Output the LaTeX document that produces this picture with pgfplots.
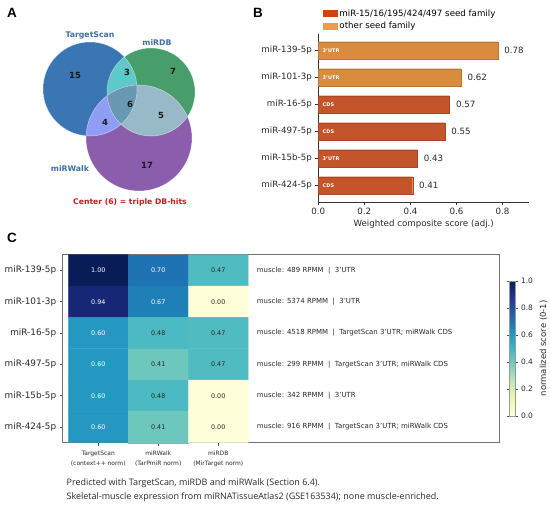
\documentclass[border=0pt]{standalone}
\usepackage{fontspec}
\setmainfont{DejaVu Sans}
\newfontfamily\capfont{Open Sans}
\newfontfamily\letterfont{Liberation Sans}
\usepackage{pgfplots}
\pgfplotsset{compat=1.18}
\newcommand{\fs}[1]{\fontsize{#1pt}{#1pt}\selectfont}
\newcommand{\sepbar}{\ \ |\ \ }
\newcommand{\annTS}{TargetScan 3'UTR; miRWalk CDS}
\definecolor{tsblue}{RGB}{58,118,180}
\definecolor{dbgreen}{RGB}{72,158,106}
\definecolor{wkpurple}{RGB}{138,94,172}
\definecolor{tsdb}{RGB}{95,200,200}
\definecolor{tswk}{RGB}{143,158,245}
\definecolor{dbwk}{RGB}{152,186,200}
\definecolor{ctr}{RGB}{104,152,178}
\definecolor{lblblue}{RGB}{62,110,165}
\definecolor{ctrred}{RGB}{192,30,30}
\definecolor{famC}{RGB}{196,84,42}
\definecolor{othC}{RGB}{218,140,62}
\definecolor{famL}{RGB}{204,68,18}
\definecolor{othL}{RGB}{242,152,82}
\definecolor{txt}{RGB}{40,40,40}
\begin{document}
\begin{tikzpicture}
\useasboundingbox (0bp,0bp) rectangle (550bp,506bp);
% ---------- background axis (pixel coordinates) : Venn, letters, caption
\begin{axis}[at={(0bp,0bp)}, anchor=south west, scale only axis, width=550bp, height=506bp,
  xmin=0, xmax=550, ymin=0, ymax=506, y dir=reverse, axis lines=none, clip=false]
\fill[tsblue] (axis cs:90,89) circle[radius=47bp];
\fill[dbgreen] (axis cs:151,92) circle[radius=44bp];
\fill[wkpurple] (axis cs:139,138) circle[radius=53bp];
\begin{scope}
\clip (axis cs:90,89) circle[radius=47bp];
\fill[tsdb] (axis cs:151,92) circle[radius=44bp];
\end{scope}
\begin{scope}
\clip (axis cs:90,89) circle[radius=47bp];
\fill[tswk] (axis cs:139,138) circle[radius=53bp];
\end{scope}
\begin{scope}
\clip (axis cs:151,92) circle[radius=44bp];
\fill[dbwk] (axis cs:139,138) circle[radius=53bp];
\end{scope}
\begin{scope}
\clip (axis cs:90,89) circle[radius=47bp];
\clip (axis cs:151,92) circle[radius=44bp];
\fill[ctr] (axis cs:139,138) circle[radius=53bp];
\end{scope}
\draw[white, opacity=0.5, line width=0.5bp] (axis cs:90,89) circle[radius=47bp];
\draw[white, opacity=0.5, line width=0.5bp] (axis cs:151,92) circle[radius=44bp];
\draw[white, opacity=0.5, line width=0.5bp] (axis cs:139,138) circle[radius=53bp];
\tikzset{vn/.style={font=\bfseries\fs{8.5}, text=black!90}}
\node[vn] at (axis cs:75,75) {15};
\node[vn] at (axis cs:127,72) {3};
\node[vn] at (axis cs:173,71) {7};
\node[vn] at (axis cs:130,104) {6};
\node[vn] at (axis cs:105,122) {4};
\node[vn] at (axis cs:161,115) {5};
\node[vn] at (axis cs:147,165) {17};
\node[font=\bfseries\fs{7.8}, text=lblblue] at (axis cs:90,35.5) {TargetScan};
\node[font=\bfseries\fs{7.8}, text=lblblue] at (axis cs:157,42.5) {miRDB};
\node[font=\bfseries\fs{7.8}, text=lblblue] at (axis cs:70,168.5) {miRWalk};
\node[font=\bfseries\fs{7.7}, text=ctrred] at (axis cs:130,202) {Center (6) = triple DB-hits};
\node[font=\letterfont\bfseries\fs{13.5}, anchor=west, inner sep=0pt] at (axis cs:7,13) {A};
\node[font=\letterfont\bfseries\fs{13.5}, anchor=west, inner sep=0pt] at (axis cs:253,13) {B};
\node[font=\letterfont\bfseries\fs{13.5}, anchor=west, inner sep=0pt] at (axis cs:7,238) {C};
\node[font=\capfont\fs{9}, anchor=west, inner sep=0pt, text=txt] at (axis cs:66.5,483.5) {Predicted with TargetScan, miRDB and miRWalk (Section 6.4).};
\node[font=\capfont\fs{9}, anchor=west, inner sep=0pt, text=txt] at (axis cs:66.5,496.8) {Skeletal-muscle expression from miRNATissueAtlas2 (GSE163534); none muscle-enriched.};
\end{axis}
% ---------- panel B
\begin{axis}[at={(318.3bp,304bp)}, anchor=south west, scale only axis, width=210.7bp, height=168bp,
  xmin=0, xmax=0.915, ymin=-0.61, ymax=5.61, y dir=reverse,
  axis x line*=bottom, axis y line*=left, axis line style={-, black!80, line width=0.5bp},
  tick align=outside, major tick length=3bp, tick style={black!80, line width=0.5bp},
  xtick={0,0.2,0.4,0.6,0.8}, xticklabels={0.0,0.2,0.4,0.6,0.8},
  ytick={0,1,2,3,4,5},
  yticklabels={miR-139-5p,miR-101-3p,miR-16-5p,miR-497-5p,miR-15b-5p,miR-424-5p},
  ticklabel style={font=\fs{8.7}, text=txt},
  xlabel={Weighted composite score (adj.)}, xlabel style={font=\fs{8.7}, text=txt, yshift=2bp},
  legend style={at={(0,1)}, anchor=south west, draw=none, fill=none, font=\fs{8.7},
    inner sep=0pt, row sep=0.5bp, xshift=4bp, yshift=1.7bp},
  legend cell align=left,
  legend image code/.code={\fill[#1, draw=none] (0bp,-3.5bp) rectangle (15bp,3.5bp);},
  clip=false]
\addplot[xbar, bar width=0.65, bar shift=0pt, fill=othC, draw=othC!85!black, line width=0.3bp, forget plot,
  nodes near coords, point meta=explicit symbolic,
  nodes near coords style={font=\fs{8.7}, text=txt, anchor=west, xshift=3bp}]
  coordinates {(0.78,0) [0.78] (0.62,1) [0.62]};
\addplot[xbar, bar width=0.65, bar shift=0pt, fill=famC, draw=famC!85!black, line width=0.3bp, forget plot,
  nodes near coords, point meta=explicit symbolic,
  nodes near coords style={font=\fs{8.7}, text=txt, anchor=west, xshift=3bp}]
  coordinates {(0.57,2) [0.57] (0.55,3) [0.55] (0.43,4) [0.43] (0.41,5) [0.41]};
\addplot[only marks, mark=none, forget plot, nodes near coords, point meta=explicit symbolic,
  nodes near coords style={font=\bfseries\fs{5}, text=white, anchor=west, xshift=0bp}]
  coordinates {(0.004,0) [3'UTR] (0.004,1) [3'UTR] (0.004,2) [CDS] (0.004,3) [CDS] (0.004,4) [3'UTR] (0.004,5) [CDS]};
\addlegendimage{fill=famL, draw=none}
\addlegendentry{miR-15/16/195/424/497 seed family}
\addlegendimage{fill=othL, draw=none}
\addlegendentry{other seed family}
\end{axis}
% ---------- panel C
\begin{axis}[at={(62.7bp,63.3bp)}, anchor=south west, scale only axis, width=436.3bp, height=188bp,
  xmin=-0.093, xmax=7.18, ymin=0, ymax=6, y dir=reverse, enlargelimits=false,
  axis line style={black!55, line width=0.6bp},
  tick align=outside, major tick length=3bp, tick style={black!70, line width=0.5bp},
  xtick pos=lower, ytick pos=left,
  xtick={0.5,1.5,2.5},
  xticklabels={{TargetScan\\(context++ norm)},{miRWalk\\(TarPmiR norm)},{miRDB\\(MirTarget norm)}},
  xticklabel style={font=\fontsize{6}{10}\selectfont, align=center, text=txt, yshift=-1.5bp},
  ytick={0.5,1.5,2.5,3.5,4.5,5.5},
  yticklabels={miR-139-5p,miR-101-3p,miR-16-5p,miR-497-5p,miR-15b-5p,miR-424-5p},
  yticklabel style={font=\fs{8.9}, text=txt},
  colormap={ylgnbu}{rgb255=(255,255,217) rgb255=(237,248,177) rgb255=(199,233,180) rgb255=(127,205,187) rgb255=(65,182,196) rgb255=(29,145,192) rgb255=(34,94,168) rgb255=(37,52,148) rgb255=(8,29,88)},
  point meta min=0, point meta max=1,
  colorbar,
  colorbar style={at={(1.0229,0.142)}, anchor=south west, scale only axis, width=6bp, height=135.3bp,
    ytick={0,0.2,0.4,0.6,0.8,1}, yticklabels={0.0,0.2,0.4,0.6,0.8,1.0},
    yticklabel style={font=\fs{7.5}, text=txt},
    ylabel={normalized score (0-1)}, ylabel style={font=\fs{8.5}, text=txt},
    axis line style={black!40, line width=0.4bp}, tick style={black!70, line width=0.4bp},
    major tick length=2.5bp, tick align=outside},
  clip=false]
\addplot[matrix plot*, mesh/cols=3, point meta=explicit] table[meta=c] {
x y c
0.5 0.5 1.00
1.5 0.5 0.70
2.5 0.5 0.47
0.5 1.5 0.94
1.5 1.5 0.67
2.5 1.5 0.00
0.5 2.5 0.60
1.5 2.5 0.48
2.5 2.5 0.47
0.5 3.5 0.60
1.5 3.5 0.41
2.5 3.5 0.47
0.5 4.5 0.60
1.5 4.5 0.48
2.5 4.5 0.00
0.5 5.5 0.60
1.5 5.5 0.41
2.5 5.5 0.00
};
\addplot[only marks, mark=none, nodes near coords, point meta=explicit symbolic,
  nodes near coords style={font=\fs{6.4}, text=white, anchor=center}]
  coordinates {(0.5,0.5) [1.00] (1.5,0.5) [0.70] (0.5,1.5) [0.94] (1.5,1.5) [0.67]
   (0.5,2.5) [0.60] (0.5,3.5) [0.60] (0.5,4.5) [0.60] (0.5,5.5) [0.60]};
\addplot[only marks, mark=none, nodes near coords, point meta=explicit symbolic,
  nodes near coords style={font=\fs{6.4}, text=txt, anchor=center}]
  coordinates {(2.5,0.5) [0.47] (2.5,1.5) [0.00] (1.5,2.5) [0.48] (2.5,2.5) [0.47]
   (1.5,3.5) [0.41] (2.5,3.5) [0.47] (1.5,4.5) [0.48] (2.5,4.5) [0.00] (1.5,5.5) [0.41] (2.5,5.5) [0.00]};
\addplot[only marks, mark=none, nodes near coords, point meta=explicit symbolic,
  nodes near coords style={font=\fs{7}, text=txt, anchor=west, inner sep=0pt}]
  coordinates {(3.14,0.5) [muscle: 489 RPMM\sepbar 3'UTR]
   (3.14,1.5) [muscle: 5374 RPMM\sepbar 3'UTR]
   (3.14,2.5) [muscle: 4518 RPMM\sepbar\annTS]
   (3.14,3.5) [muscle: 299 RPMM\sepbar\annTS]
   (3.14,4.5) [muscle: 342 RPMM\sepbar 3'UTR]
   (3.14,5.5) [muscle: 916 RPMM\sepbar\annTS]};
\end{axis}
\end{tikzpicture}
\end{document}
